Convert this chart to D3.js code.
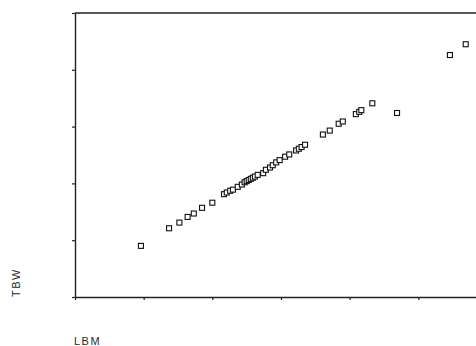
<!DOCTYPE html>
<html>
<head>
<meta charset="utf-8">
<script src="https://cdn.jsdelivr.net/npm/d3@7"></script>
<style>
  html, body { margin: 0; padding: 0; background: #fff; }
  svg { display: block; }
  text { font-family: "Liberation Sans", Arial, sans-serif; fill: #2a2a2a; }
</style>
</head>
<body>
<svg id="chart" width="476" height="346"></svg>
<script>
// Lean body mass (kg) vs total body water (L)
const lbm = [29.6, 33.7, 35.2, 36.4, 37.3, 38.5, 40.0, 41.7, 42.1, 42.6,
             43.0, 43.7, 44.3, 44.7, 45.0, 45.3, 45.6, 45.9, 46.2, 46.6,
             47.4, 47.8, 48.4, 48.8, 49.3, 49.8, 50.6, 51.2, 52.2, 52.6,
             53.0, 53.5, 56.1, 57.1, 58.4, 59.0, 60.9, 61.4, 61.7, 63.3,
             66.9, 74.6, 76.9];
const tbw = [19.0, 22.1, 23.1, 24.1, 24.7, 25.7, 26.6, 28.1, 28.4, 28.7,
             28.9, 29.4, 29.8, 30.2, 30.4, 30.6, 30.8, 31.0, 31.2, 31.5,
             31.8, 32.4, 32.8, 33.2, 33.7, 34.1, 34.7, 35.1, 35.8, 36.1,
             36.4, 36.8, 38.6, 39.3, 40.5, 40.9, 42.2, 42.6, 42.9, 44.1,
             42.4, 52.6, 54.5];
const xTicks = [20, 30, 40, 50, 60, 70, 80];
const yTicks = [10, 20, 30, 40, 50, 60];
const xLabel = "LBM";
const yLabel = "TBW";

const svg = d3.select("#chart");
const ink = "#222";

const x = d3.scaleLinear().domain([20, 80]).range([75, 487]);
const y = d3.scaleLinear().domain([10, 60]).range([297, 13]);

// frame top line
svg.append("line")
  .attr("x1", x(20)).attr("x2", x(80))
  .attr("y1", y(60)).attr("y2", y(60))
  .attr("stroke", ink).attr("stroke-width", 1.4);

// bottom axis
const xAxis = svg.append("g")
  .attr("transform", `translate(0,${y(10)})`)
  .call(d3.axisBottom(x).tickValues(xTicks).tickSize(3).tickSizeOuter(0).tickFormat(""));
xAxis.select(".domain").attr("stroke", ink).attr("stroke-width", 1.4);
xAxis.selectAll(".tick line").attr("stroke", ink).attr("stroke-width", 1.2);

// left axis
const yAxis = svg.append("g")
  .attr("transform", `translate(${x(20)},0)`)
  .call(d3.axisLeft(y).tickValues(yTicks).tickSize(3).tickSizeOuter(0).tickFormat(""));
yAxis.select(".domain").attr("stroke", ink).attr("stroke-width", 1.4);
yAxis.selectAll(".tick line").attr("stroke", ink).attr("stroke-width", 1.2);

// data points: small open squares
const pts = lbm.map((v, i) => ({ lbm: v, tbw: tbw[i] }));
svg.append("g").selectAll("rect")
  .data(pts)
  .join("rect")
  .attr("x", d => x(d.lbm) - 2.5)
  .attr("y", d => y(d.tbw) - 2.5)
  .attr("width", 5).attr("height", 5)
  .attr("fill", "#fff")
  .attr("stroke", "#111")
  .attr("stroke-width", 1.1);

// axis titles
svg.append("text")
  .attr("x", 74).attr("y", 345)
  .attr("font-size", 11).attr("letter-spacing", 1.5)
  .text(xLabel);

svg.append("text")
  .attr("transform", "translate(20,297) rotate(-90)")
  .attr("font-size", 11).attr("letter-spacing", 1.5)
  .text(yLabel);
</script>
</body>
</html>
